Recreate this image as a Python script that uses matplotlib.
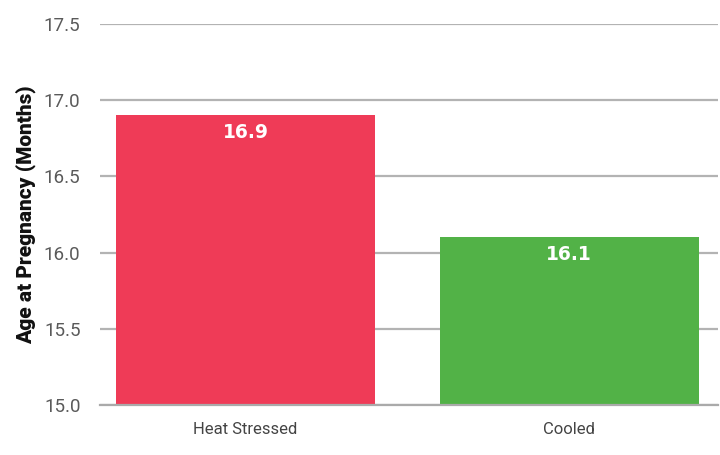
import matplotlib
matplotlib.use("Agg")
import matplotlib.pyplot as plt

categories = ["Heat Stressed", "Cooled"]
values = [16.9, 16.1]
colors = ["#ef3b57", "#52b247"]
yticks = [15.0, 15.5, 16.0, 16.5, 17.0, 17.5]

fig = plt.figure(figsize=(7.2, 4.55), dpi=100)
ax = fig.add_axes([100/720, 1-405/455, 618/720, 381/455])

x = list(range(len(categories)))
ax.bar(x, [v - 15.0 for v in values], bottom=15.0, width=0.8, color=colors, zorder=3)
ax.set_ylim(15.0, 17.5)
ax.set_xlim(-0.45, 1.46)
ax.set_yticks(yticks)
ax.set_yticklabels([f"{t:.1f}" for t in yticks], fontsize=13.5, color="#5a5a5a", family="Roboto", fontweight="normal")
ax.set_xticks(x)
ax.set_xticklabels(categories, fontsize=12, color="#444444", family="Roboto", fontweight="normal")
ax.tick_params(axis="both", length=0)
ax.tick_params(axis="y", pad=14)
ax.tick_params(axis="x", pad=12)
ax.grid(axis="y", color="#b3b3b3", linewidth=1.6, zorder=0)
for s in ["top", "right", "left"]:
    ax.spines[s].set_visible(False)
ax.spines["bottom"].set_color("#aaaaaa")
ax.spines["bottom"].set_linewidth(1.6)
ax.spines["bottom"].set_zorder(4)

for xi, v in zip(x, values):
    ax.text(xi, v - 0.11, f"{v:.1f}", ha="center", va="center", color="white",
            fontsize=13.5, fontweight="bold", family="DejaVu Sans", zorder=5)

ax.set_ylabel("Age at Pregnancy (Months)", fontsize=15, fontweight="black",
              family="Roboto", color="#111111", labelpad=6)

fig.savefig("out.png", dpi=100)
